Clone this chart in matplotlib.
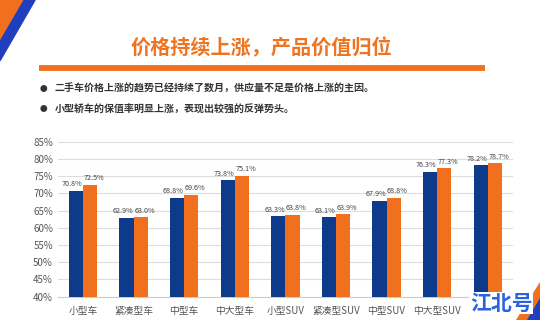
import matplotlib.pyplot as plt
import numpy as np
from matplotlib.patches import Polygon

plt.rcParams['font.family'] = ['Noto Sans CJK SC', 'DejaVu Sans']

categories = ['小型车', '紧凑型车', '中型车', '中大型车', '小型SUV', '紧凑型SUV', '中型SUV', '中大型SUV', 'MPV']
series_a = [70.8, 62.9, 68.8, 73.8, 63.3, 63.1, 67.9, 76.3, 78.2]
series_b = [72.5, 63.0, 69.6, 75.1, 63.8, 63.9, 68.8, 77.3, 78.7]
yticks = [40, 45, 50, 55, 60, 65, 70, 75, 80, 85]

title = '价格持续上涨，产品价值归位'
bullets = ['二手车价格上涨的趋势已经持续了数月，供应量不足是价格上涨的主因。',
           '小型轿车的保值率明显上涨，表现出较强的反弹势头。']

BLUE = '#0D3A8A'
ORANGE = '#F0701E'

fig = plt.figure(figsize=(5.4, 3.2), dpi=100)

# corner decorations
fig.patches.append(Polygon([[0, 1], [0.045, 1], [0.0, 0.87]], closed=True,
                           transform=fig.transFigure, color=ORANGE, zorder=0))
fig.patches.append(Polygon([[0.045, 1], [0.065, 1], [0.0, 0.81], [0.0, 0.87]], closed=True,
                           transform=fig.transFigure, color='#1F3FBF', zorder=0))
fig.patches.append(Polygon([[1, 0.12], [1, 0.0], [0.955, 0.0]], closed=True,
                           transform=fig.transFigure, color=ORANGE, zorder=0))
fig.patches.append(Polygon([[1, 0.07], [1, 0.0], [0.975, 0.0]], closed=True,
                           transform=fig.transFigure, color='#1F3FBF', zorder=0))

fig.text(0.484, 0.851, title, ha='center', va='center', fontsize=14.5,
         fontweight='bold', color='#EE7421')
fig.add_artist(plt.Line2D([0.072, 0.898], [0.786, 0.786], transform=fig.transFigure,
                          color=ORANGE, lw=4.2, solid_capstyle='butt'))
for i, b in enumerate(bullets):
    y = 0.722 - i * 0.064
    fig.text(0.080, y, '●', ha='center', va='center', fontsize=5.5, color='#333333')
    fig.text(0.101, y, b, ha='left', va='center', fontsize=7.2, color='#333333',
             fontweight='bold')

ax = fig.add_axes([0.107, 0.073, 0.843, 0.484])
x = np.arange(len(categories))
w = 0.28
ax.bar(x - w / 2, series_a, w, color=BLUE, zorder=3)
ax.bar(x + w / 2, series_b, w, color=ORANGE, zorder=3)
for xi, a, b in zip(x, series_a, series_b):
    ax.text(xi - 0.01, a + 0.7, f'{a:.1f}%', ha='right', va='bottom', fontsize=5.2, color='#444444')
    ax.text(xi + 0.01, b + 0.7, f'{b:.1f}%', ha='left', va='bottom', fontsize=5.2, color='#444444')

ax.set_xlim(-0.5, len(categories) - 0.5)
ax.set_ylim(40, 85)
ax.set_yticks(yticks)
ax.set_yticklabels([f'{t}%' for t in yticks])
ax.set_xticks(x)
ax.set_xticklabels(categories)
ax.tick_params(axis='both', length=0, labelsize=7, colors='#555555')
ax.tick_params(axis='x', pad=7)
ax.grid(axis='y', color='#dddddd', lw=0.8, zorder=0)
for s in ['top', 'right', 'left']:
    ax.spines[s].set_visible(False)
ax.spines['bottom'].set_color('#cccccc')

fig.text(0.928, 0.052, '江北号', ha='center', va='center', fontsize=15,
         fontweight='bold', color='#2C62E0', zorder=10,
         bbox=dict(facecolor='white', edgecolor='none', pad=0.3))

fig.savefig('out.png', dpi=100)
